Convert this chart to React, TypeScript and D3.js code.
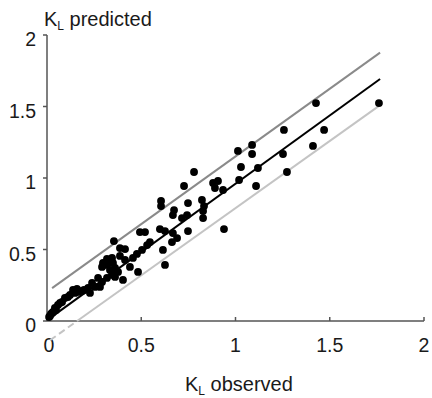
import React, { useEffect, useRef } from 'react';
import * as d3 from 'd3';

// observed / predicted K_L pairs
const observed = [
  1.761, 1.427, 1.47, 1.257, 1.252, 1.411, 1.273, 1.013, 1.088, 1.088,
  1.029, 1.119, 0.881, 0.907, 0.891, 0.934, 1.019, 1.109, 0.822, 0.833,
  0.828, 0.828, 0.939, 0.78, 0.727, 0.605, 0.605, 0.748, 0.674, 0.668,
  0.716, 0.743, 0.599, 0.626, 0.668, 0.748, 0.52, 0.493, 0.69, 0.355,
  0.546, 0.531, 0.663, 0.387, 0.414, 0.504, 0.615, 0.477, 0.456, 0.318,
  0.345, 0.414, 0.292, 0.318, 0.334, 0.361, 0.44, 0.626, 0.377, 0.483,
  0.345, 0.361, 0.387, 0.297, 0.35, 0.271, 0.239, 0.255, 0.292, 0.318,
  0.218, 0.164, 0.149, 0.122, 0.095, 0.08, 0.058, 0.042, 0.032, 0.027,
  0.016, 0.138, 0.159, 0.196, 0.111, 0.069, 0.048, 0.021, 0.011, 0.281,
  0.228, 0.186, 0.403,
];
const predicted = [
  1.524, 1.524, 1.336, 1.336, 1.168, 1.224, 1.042, 1.189, 1.231, 1.168,
  1.077, 1.07, 0.965, 0.979, 0.93, 0.916, 0.986, 0.944, 0.846, 0.804,
  0.769, 0.72, 0.643, 1.042, 0.944, 0.839, 0.804, 0.825, 0.776, 0.741,
  0.72, 0.741, 0.643, 0.629, 0.615, 0.629, 0.622, 0.622, 0.58, 0.559,
  0.552, 0.531, 0.552, 0.51, 0.503, 0.497, 0.497, 0.469, 0.441, 0.434,
  0.441, 0.427, 0.378, 0.392, 0.357, 0.371, 0.378, 0.392, 0.343, 0.343,
  0.322, 0.308, 0.455, 0.406, 0.406, 0.301, 0.266, 0.238, 0.273, 0.301,
  0.231, 0.203, 0.196, 0.182, 0.161, 0.133, 0.112, 0.091, 0.063, 0.056,
  0.035, 0.217, 0.224, 0.217, 0.168, 0.126, 0.077, 0.049, 0.028, 0.238,
  0.196, 0.21, 0.287,
];

// fitted line and the two bounds, as [x, y] end points
const fitLine: [number, number][] = [[0.016, 0.02], [1.767, 1.692]];
const upperLine: [number, number][] = [[0.027, 0.23], [1.767, 1.877]];
const lowerLine: [number, number][] = [[0.016, -0.135], [1.767, 1.51]];

const tickValues = [0, 0.5, 1, 1.5, 2];
const tickLabels = ['0', '0.5', '1', '1.5', '2'];

const FONT = '"Liberation Sans", Arial, sans-serif';

export default function App() {
  const svgRef = useRef<SVGSVGElement>(null);

  useEffect(() => {
    if (!svgRef.current) return;
    const width = 432;
    const height = 398;
    const svg = d3.select(svgRef.current);
    svg.selectAll('*').remove();
    svg.attr('width', width).attr('height', height);

    const x = d3.scaleLinear().domain([0, 2]).range([47, 424]);
    const y = d3.scaleLinear().domain([0, 2]).range([321, 35]);

    const line = d3.line<[number, number]>()
      .x(d => x(d[0]))
      .y(d => y(d[1]));

    // axes
    const axisColor = '#555';
    svg.append('line')
      .attr('x1', x(0)).attr('x2', x(0))
      .attr('y1', y(0)).attr('y2', y(2))
      .attr('stroke', axisColor).attr('stroke-width', 1.5);
    svg.append('line')
      .attr('x1', x(0)).attr('x2', x(2))
      .attr('y1', y(0)).attr('y2', y(0))
      .attr('stroke', axisColor).attr('stroke-width', 1.5);

    svg.append('g')
      .selectAll('line')
      .data(tickValues)
      .enter()
      .append('line')
      .attr('x1', x(0) - 4).attr('x2', x(0))
      .attr('y1', d => y(d)).attr('y2', d => y(d))
      .attr('stroke', axisColor).attr('stroke-width', 1.5);

    svg.append('g')
      .selectAll('line')
      .data(tickValues)
      .enter()
      .append('line')
      .attr('x1', d => x(d)).attr('x2', d => x(d))
      .attr('y1', y(0) - 4).attr('y2', y(0))
      .attr('stroke', axisColor).attr('stroke-width', 1.5);

    svg.append('g')
      .selectAll('text')
      .data(tickValues)
      .enter()
      .append('text')
      .attr('x', x(0) - 11)
      .attr('y', d => y(d) + 11)
      .attr('text-anchor', 'end')
      .style('font-family', FONT)
      .style('font-size', '19.5px')
      .style('fill', '#1a1a1a')
      .text((d, i) => tickLabels[i]);

    svg.append('g')
      .selectAll('text')
      .data(tickValues)
      .enter()
      .append('text')
      .attr('x', d => x(d) + (d === 0 ? 2 : 0))
      .attr('y', y(0) + 31)
      .attr('text-anchor', 'middle')
      .style('font-family', FONT)
      .style('font-size', '19.5px')
      .style('fill', '#1a1a1a')
      .text((d, i) => tickLabels[i]);

    // axis titles with subscript L
    const title = (tx: number, ty: number, rest: string) => {
      const t = svg.append('text')
        .attr('x', tx).attr('y', ty)
        .style('font-family', FONT)
        .style('font-size', '20px')
        .style('fill', '#1a1a1a');
      t.append('tspan').text('K');
      t.append('tspan').attr('dy', 4).style('font-size', '12px').text('L');
      t.append('tspan').attr('dy', -4).text(' ' + rest);
    };
    title(44, 26, 'predicted');
    title(185, 391, 'observed');

    // reference lines
    svg.append('path')
      .attr('d', line(upperLine))
      .attr('fill', 'none').attr('stroke', '#8a8a8a').attr('stroke-width', 2);

    // lower bound: dashed below the x axis, solid above
    const [p0, p1] = lowerLine;
    const t0 = (0 - p0[1]) / (p1[1] - p0[1]);
    const cross: [number, number] = [p0[0] + t0 * (p1[0] - p0[0]), 0];
    svg.append('path')
      .attr('d', line([p0, cross]))
      .attr('fill', 'none').attr('stroke', '#c4c4c4').attr('stroke-width', 2)
      .attr('stroke-dasharray', '7,4');
    svg.append('path')
      .attr('d', line([cross, p1]))
      .attr('fill', 'none').attr('stroke', '#c4c4c4').attr('stroke-width', 2);

    // points
    const pts = observed.map((o, i) => [o, predicted[i]] as [number, number]);
    svg.append('g')
      .selectAll('circle')
      .data(pts)
      .enter()
      .append('circle')
      .attr('cx', d => x(d[0]))
      .attr('cy', d => y(d[1]))
      .attr('r', 3.9)
      .attr('fill', '#000');

    svg.append('path')
      .attr('d', line(fitLine))
      .attr('fill', 'none').attr('stroke', '#000').attr('stroke-width', 2);
  }, []);

  return (
    <div style={{ position: 'absolute', left: 0, top: 0, background: '#fff' }}>
      <svg ref={svgRef} style={{ display: 'block' }}></svg>
    </div>
  );
}
